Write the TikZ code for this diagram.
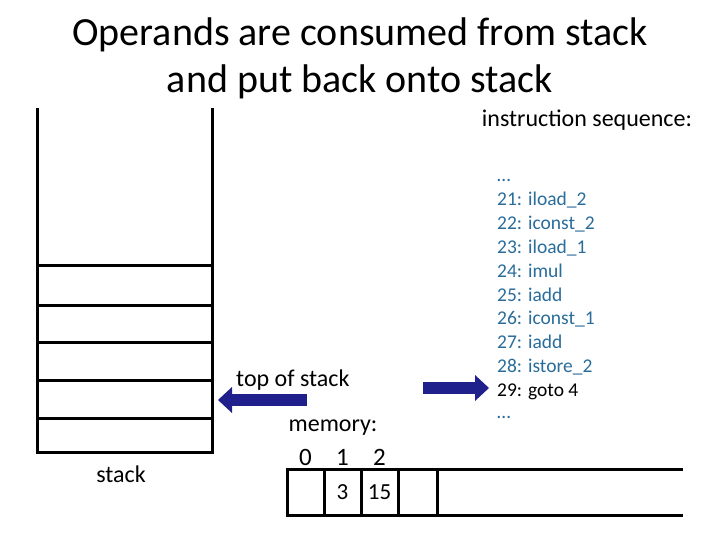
\documentclass[tikz,border=0pt]{standalone}
\usepackage{fontspec}
\setmainfont{Carlito}
\usetikzlibrary{arrows.meta,positioning}
\definecolor{jvmNavy}{HTML}{20208C}
\definecolor{jvmTeal}{HTML}{2A6C9A}

\begin{document}
\begin{tikzpicture}[x=1pt,y=-1pt,
    wall/.style={line width=3pt},
    fatarrow/.style={draw=jvmNavy,line width=12pt,
                     -{Triangle[length=14pt,width=26pt,line width=0pt]}},
    cell/.style={draw,line width=3pt,minimum width=37pt,minimum height=46pt,
                 inner sep=0pt,outer sep=0pt,font=\fontsize{23}{26}\selectfont},
    idxlbl/.style={inner sep=0pt,font=\fontsize{25}{28}\selectfont},
    lbl/.style={inner sep=0pt,font=\fontsize{24}{28}\selectfont},
    insline/.style={inner sep=0pt,anchor=base west,text=jvmTeal,
                    font=\fontsize{19.5}{22}\selectfont}]
  \useasboundingbox (0,0) rectangle (720,540);

  % title
  \node[align=center,font=\fontsize{40}{47}\selectfont] (title) at (360,58)
    {Operands are consumed from stack\\and put back onto stack};

  % operand stack
  \draw[wall] (37,108) -- (37,452) -- (212,452) -- (212,108);
  \foreach \y in {265,305,342,380,418}
    \draw[wall] (37,\y) -- (212,\y);
  \node[lbl] (stacklbl) at (121,474) {stack};
  \coordinate (tosSlot) at (212,400);

  \node[lbl,anchor=west] (toslbl) at (236,380) {top of stack};
  \coordinate (tosTail) at (307,400);
  \draw[fatarrow,shorten >=6pt] (tosTail) -- (tosSlot);

  % local variable memory
  \node[lbl] (memlbl) at (333,428) {memory:};
  \node[cell] (m0) at (305.5,492) {};
  \node[cell,right=0pt of m0] (m1) {3};
  \node[cell,right=0pt of m1] (m2) {15};
  \node[cell,right=0pt of m2,minimum width=39pt] (m3) {};
  \draw[wall] (m3.north east) -- (683,469);
  \draw[wall] (m3.south east) -- (683,515);
  \node[idxlbl,above=3pt of m0] (i0) {0};
  \node[idxlbl,above=3pt of m1] (i1) {1};
  \node[idxlbl,above=3pt of m2] (i2) {2};

  % instruction sequence
  \node[lbl] (seqlbl) at (587,120) {instruction sequence:};
  \foreach \txt [count=\i] in {\dots, 21: iload\_2, 22: iconst\_2,
      23: iload\_1, 24: imul, 25: iadd, 26: iconst\_1, 27: iadd,
      28: istore\_2}
    \node[insline] (ins\i) at (497,158.2+23.8*\i) {\txt};
  \node[insline,text=black] (ins10) at (497,396.2) {29: goto 4};
  \node[insline] (ins11) at (497,418) {\dots};

  \coordinate (pcTail) at (423,388);
  \draw[fatarrow,shorten >=8pt] (pcTail) -- (ins10.west |- pcTail);
\end{tikzpicture}
\end{document}
